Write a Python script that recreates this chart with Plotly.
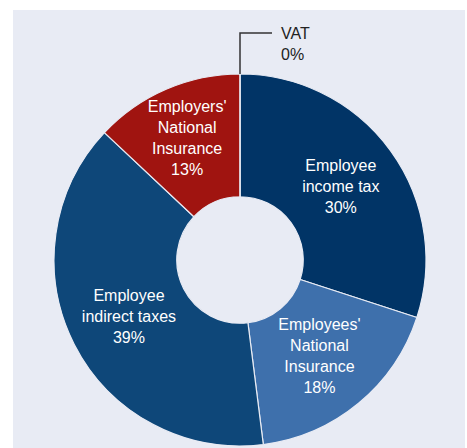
import plotly.graph_objects as go

# ---- data ----
categories = ["Employee income tax", "Employees' National Insurance",
              "Employee indirect taxes", "Employers' National Insurance", "VAT"]
display_text = ["Employee<br>income tax", "Employees'<br>National<br>Insurance",
                "Employee<br>indirect taxes", "Employers'<br>National<br>Insurance", "VAT"]
shares = [30, 18, 39, 13, 0]
colors = ["#013466", "#3E70AC", "#0E4779", "#A01410", "#333333"]

W, H = 467, 448
# pie placement (pixels)
cx, cy, r = 240, 260, 186

templates = ["%{text}<br>%{value}%" if v > 0 else "" for v in shares]

fig = go.Figure(go.Pie(
    labels=categories,
    values=shares,
    text=display_text,
    texttemplate=templates,
    textinfo="text",
    textposition="inside",
    insidetextorientation="horizontal",
    textfont=dict(family="Liberation Sans, Arial, sans-serif", size=16, color="white"),
    marker=dict(colors=colors, line=dict(color="#E8EBF4", width=1.2)),
    sort=False,
    direction="clockwise",
    rotation=0,
    hole=0.34,
    showlegend=False,
    domain=dict(x=[(cx - r) / W, (cx + r) / W],
                y=[(H - (cy + r)) / H, (H - (cy - r)) / H]),
    hoverinfo="label+percent",
))

def px(x):
    return x / W

def py(y):
    return (H - y) / H

top_y = cy - r
fig.update_layout(
    width=W, height=H,
    margin=dict(l=0, r=0, t=0, b=0),
    paper_bgcolor="white",
    uniformtext=dict(minsize=16, mode="show"),
    shapes=[
        dict(type="rect", xref="paper", yref="paper",
             x0=px(13), x1=px(465), y0=py(448), y1=py(10),
             fillcolor="#E8EBF4", line=dict(width=0), layer="below"),
        dict(type="path", xref="paper", yref="paper",
             path=f"M {px(cx)} {py(top_y)} L {px(cx)} {py(33)} L {px(272)} {py(33)}",
             line=dict(color="#333333", width=1.5), layer="above"),
    ],
    annotations=[
        dict(xref="paper", yref="paper", x=px(279), y=py(44),
             text=f"VAT<br>{shares[4]}%", showarrow=False,
             xanchor="left", yanchor="middle", align="left",
             font=dict(family="Liberation Sans, Arial, sans-serif", size=16, color="#222222")),
    ],
)

fig.write_html("out.html",
               config={"displayModeBar": False},
               post_script="document.body.style.margin='0';document.body.style.overflow='hidden';")
